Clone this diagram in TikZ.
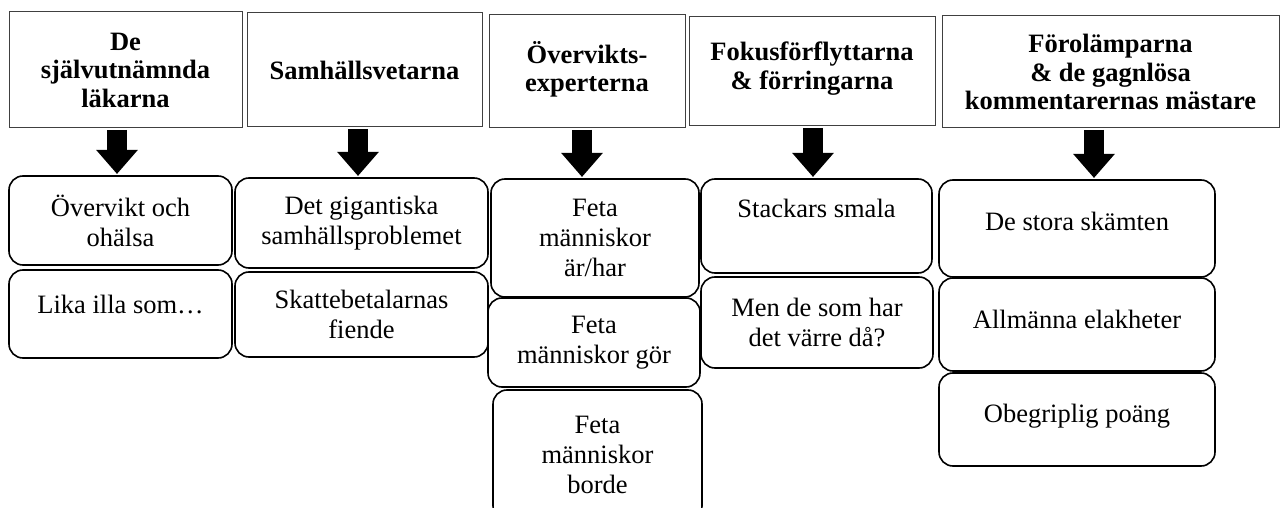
\documentclass[tikz,border=0pt]{standalone}
\usepackage{fontspec}
\setmainfont{Liberation Serif}
\usetikzlibrary{arrows.meta}
\begin{document}
\begin{tikzpicture}[x=1pt,y=-1pt,
	head/.style={draw=black!75,line width=1pt,inner sep=0pt,outer sep=0pt,align=center,font=\fontsize{26.5}{28.5}\selectfont\bfseries},
	item/.style={draw,line width=1.6pt,rounded corners=14pt,inner sep=0pt,outer sep=0pt,align=center,font=\fontsize{26.5}{30}\selectfont},
	blockarrow/.style={line width=20pt,-{Triangle[width=40pt,length=24pt]},shorten <=2pt,shorten >=2pt}]
	\useasboundingbox (0,0) rectangle (1280,508);
	% rubriker
	\node[head,minimum width=233,minimum height=116] (h1) at (125.5,70) {De\\självutnämnda\\läkarna};
	\node[head,minimum width=235,minimum height=114] (h2) at (364.5,70) {Samhällsvetarna};
	\node[head,minimum width=196,minimum height=113,text depth=10pt] (h3) at (587,71.5) {Övervikts-\\experterna};
	\node[head,minimum width=246,minimum height=109,text depth=12pt] (h4) at (812,71.5) {Fokusförflyttarna\\\& förringarna};
	\node[head,minimum width=337,minimum height=112] (h5) at (1110.5,72) {Förolämparna\\\& de gagnlösa\\kommentarernas mästare};
	% kategorier
	\node[item,minimum width=223,minimum height=89] (r1a) at (120.5,220.5) {Övervikt och\\ohälsa};
	\node[item,minimum width=223,minimum height=88,text depth=20pt] (r1b) at (120.5,314) {Lika illa som…};
	\node[item,minimum width=253,minimum height=90] (r2a) at (361.5,223) {Det gigantiska\\samhällsproblemet};
	\node[item,minimum width=253,minimum height=85] (r2b) at (361.5,314.5) {Skattebetalarnas\\fiende};
	\node[item,minimum width=208,minimum height=118] (r3a) at (595,238) {Feta\\människor\\är/har};
	\node[item,minimum width=212,minimum height=89] (r3b) at (594,342.5) {Feta\\människor gör};
	\node[item,minimum width=209,minimum height=130] (r3c) at (597.5,455) {Feta\\människor\\borde};
	\node[item,minimum width=231,minimum height=94,text depth=36pt] (r4a) at (816.5,226) {Stackars smala};
	\node[item,minimum width=232,minimum height=91] (r4b) at (817,322.5) {Men de som har\\det värre då?};
	\node[item,minimum width=276,minimum height=97,text depth=15pt] (r5a) at (1077,228.5) {De stora skämten};
	\node[item,minimum width=276,minimum height=93,text depth=11pt] (r5b) at (1077,324.5) {Allmänna elakheter};
	\node[item,minimum width=276,minimum height=93,text depth=13pt] (r5c) at (1077,419.5) {Obegriplig poäng};
	% pilar
	\coordinate (a1) at (117,0);
	\coordinate (a2) at (358,0);
	\coordinate (a3) at (582,0);
	\coordinate (a4) at (813,0);
	\coordinate (a5) at (1094,0);
	\draw[blockarrow] (h1.south -| a1) -- (r1a.north -| a1);
	\draw[blockarrow] (h2.south -| a2) -- (r2a.north -| a2);
	\draw[blockarrow] (h3.south -| a3) -- (r3a.north -| a3);
	\draw[blockarrow] (h4.south -| a4) -- (r4a.north -| a4);
	\draw[blockarrow] (h5.south -| a5) -- (r5a.north -| a5);
\end{tikzpicture}
\end{document}
